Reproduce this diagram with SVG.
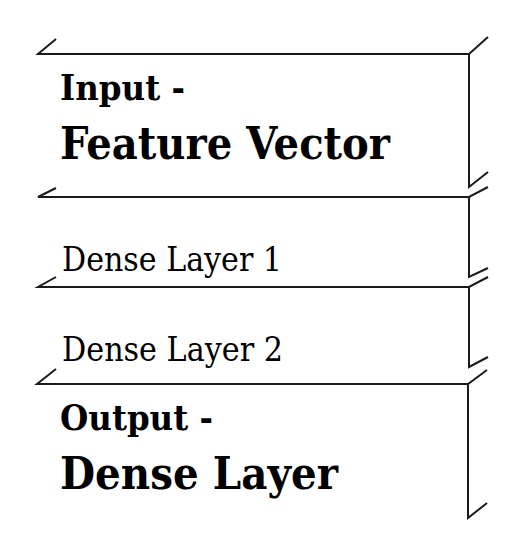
<svg xmlns="http://www.w3.org/2000/svg" width="515" height="546" viewBox="0 0 515 546">
<style>
.edge{fill:none;stroke:#1a1a1a;stroke-width:2;stroke-linejoin:miter}
.t{font-family:"DejaVu Serif","Liberation Serif",serif;fill:#000}
.b{font-weight:bold}
</style>
<rect width="515" height="546" fill="#fff"/>
<g id="input">
<path class="edge" d="M56,39 L38,54 L469,54 L488,37 M469,54 L469,187 L488,172"/>
<text class="t b" x="60" y="100" font-size="36" textLength="125" lengthAdjust="spacingAndGlyphs">Input -</text>
<text class="t b" x="60" y="159" font-size="44" textLength="330" lengthAdjust="spacingAndGlyphs">Feature Vector</text>
</g>
<g id="dense1">
<path class="edge" d="M56,188 L38,197 L469,197 L488,187 M469,197 L469,277 L488,268"/>
<text class="t" x="62" y="271" font-size="33" textLength="220" lengthAdjust="spacingAndGlyphs">Dense Layer 1</text>
</g>
<g id="dense2">
<path class="edge" d="M56,277 L38,287 L469,287 L488,277 M469,287 L469,367 L488,357"/>
<text class="t" x="62" y="361" font-size="33" textLength="221" lengthAdjust="spacingAndGlyphs">Dense Layer 2</text>
</g>
<g id="output">
<path class="edge" d="M56,369 L37,384 L468,384 L487,370 M468,384 L468,518 L487,503"/>
<text class="t b" x="60" y="430" font-size="36" textLength="153" lengthAdjust="spacingAndGlyphs">Output -</text>
<text class="t b" x="60" y="489" font-size="44" textLength="278" lengthAdjust="spacingAndGlyphs">Dense Layer</text>
</g>
<g id="connectors"></g>
</svg>
